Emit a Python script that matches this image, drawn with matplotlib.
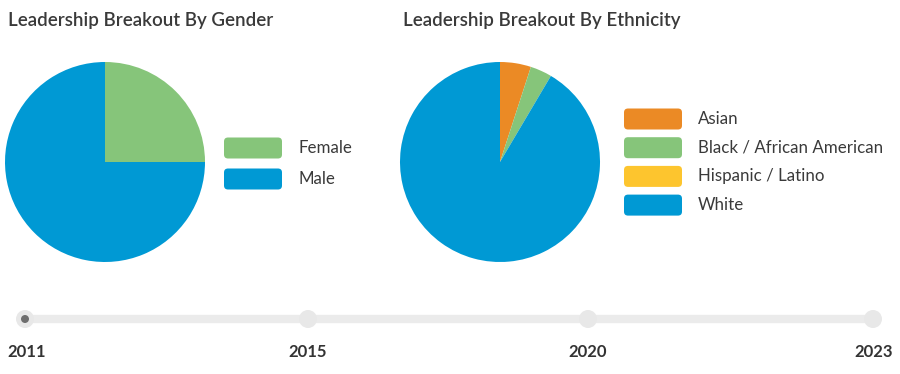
import matplotlib.pyplot as plt
from matplotlib.patches import FancyBboxPatch, Circle

gender_labels = ["Female", "Male"]
gender_values = [25, 75]
gender_colors = ["#86C57A", "#0099D4"]

eth_labels = ["Asian", "Black / African American", "Hispanic / Latino", "White"]
eth_values = [5.0, 3.5, 0.0, 91.5]
eth_colors = ["#EB8A25", "#86C57A", "#FDC52E", "#0099D4"]

years = ["2011", "2015", "2020", "2023"]

W, H = 900, 374
TXT = "#3a3a3a"
FONT = "Lato"


def Y(py):
    # pixel row from the top -> data y
    return H - py


def DrawLegend(ax, labels, colors, x, y0, step):
    for i, (lab, col) in enumerate(zip(labels, colors)):
        yc = y0 + i * step
        ax.add_patch(FancyBboxPatch((x + 3, Y(yc) - 7.5), 52, 15,
                                    boxstyle="round,pad=3,rounding_size=4",
                                    fc=col, ec="none"))
        ax.text(x + 74, Y(yc), lab, fontsize=12.2, color=TXT, family=FONT,
                va="center", ha="left")


def main():
    fig = plt.figure(figsize=(9, 3.74), dpi=100)
    ax = fig.add_axes([0, 0, 1, 1])

    ax.pie(gender_values, colors=gender_colors, startangle=90, counterclock=False,
           center=(105, Y(162)), radius=100, wedgeprops=dict(linewidth=0))
    ax.pie(eth_values, colors=eth_colors, startangle=90, counterclock=False,
           center=(500, Y(162)), radius=100, wedgeprops=dict(linewidth=0))

    ax.text(8, Y(20), "Leadership Breakout By Gender", fontsize=13.5, color=TXT,
            family=FONT, weight="semibold", va="center", ha="left")
    ax.text(403, Y(20), "Leadership Breakout By Ethnicity", fontsize=13.5, color=TXT,
            family=FONT, weight="semibold", va="center", ha="left")

    DrawLegend(ax, gender_labels, gender_colors, 224, 148, 31)
    DrawLegend(ax, eth_labels, eth_colors, 624, 119, 28.7)

    # timeline
    xs = [25, 308, 588, 873]
    ax.plot([xs[0], xs[-1]], [Y(319), Y(319)], color="#EBEBEB", lw=6,
            solid_capstyle="butt", zorder=1)
    for i, x in enumerate(xs):
        ax.add_patch(Circle((x, Y(319)), 9, fc="#E8E8E8", ec="none", zorder=2))
    ax.add_patch(Circle((xs[0], Y(319)), 4, fc="#6E6E6E", ec="none", zorder=3))
    aligns = ["left", "center", "center", "right"]
    tx = [7, 308, 588, 893]
    for t, x, al in zip(years, tx, aligns):
        ax.text(x, Y(352), t, fontsize=12, color="#333333", family=FONT,
                weight="bold", va="center", ha=al)

    ax.set_xlim(0, W)
    ax.set_ylim(0, H)
    ax.set_aspect("auto")
    ax.axis("off")
    fig.savefig("out.png", dpi=100, facecolor="white")


if __name__ == "__main__":
    main()
